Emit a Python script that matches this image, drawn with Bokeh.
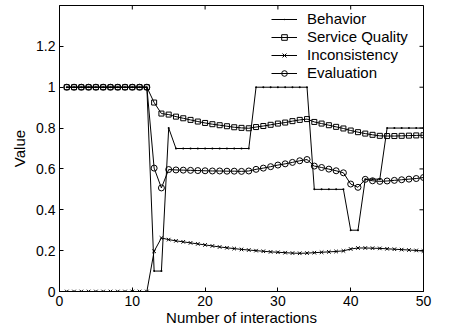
import math

from bokeh.plotting import figure
from bokeh.models import Range1d, FixedTicker, Legend, LegendItem
from bokeh.embed import file_html
from bokeh.resources import INLINE

interactions = list(range(1, 51))

behavior = [1.0, 1.0, 1.0, 1.0, 1.0, 1.0, 1.0, 1.0, 1.0, 1.0, 1.0, 1.0,
            0.1, 0.1, 0.8, 0.7, 0.7, 0.7, 0.7, 0.7, 0.7, 0.7, 0.7, 0.7,
            0.7, 0.7, 1.0, 1.0, 1.0, 1.0, 1.0, 1.0, 1.0, 1.0, 0.5, 0.5,
            0.5, 0.5, 0.5, 0.3, 0.3, 0.55, 0.55, 0.55, 0.8, 0.8, 0.8, 0.8,
            0.8, 0.8]

service_quality = [1.0, 1.0, 1.0, 1.0, 1.0, 1.0, 1.0, 1.0, 1.0, 1.0, 1.0, 1.0,
                   0.925, 0.871, 0.866, 0.856, 0.848, 0.840, 0.832, 0.825,
                   0.819, 0.814, 0.809, 0.804, 0.801, 0.799, 0.805, 0.810,
                   0.816, 0.822, 0.827, 0.834, 0.840, 0.844, 0.830, 0.822,
                   0.814, 0.806, 0.798, 0.788, 0.780, 0.773, 0.767, 0.762,
                   0.761, 0.761, 0.762, 0.763, 0.764, 0.765]

inconsistency = [0.0, 0.0, 0.0, 0.0, 0.0, 0.0, 0.0, 0.0, 0.0, 0.0, 0.0, 0.0,
                 0.197, 0.262, 0.254, 0.248, 0.243, 0.238, 0.233, 0.228,
                 0.223, 0.218, 0.214, 0.210, 0.206, 0.203, 0.200, 0.197,
                 0.194, 0.192, 0.190, 0.188, 0.187, 0.188, 0.190, 0.192,
                 0.194, 0.196, 0.199, 0.208, 0.213, 0.213, 0.212, 0.211,
                 0.209, 0.207, 0.205, 0.203, 0.201, 0.198]

evaluation = [1.0, 1.0, 1.0, 1.0, 1.0, 1.0, 1.0, 1.0, 1.0, 1.0, 1.0, 1.0,
              0.604, 0.507, 0.597, 0.595, 0.594, 0.593, 0.592, 0.591,
              0.590, 0.590, 0.589, 0.589, 0.588, 0.590, 0.598, 0.604,
              0.611, 0.619, 0.625, 0.632, 0.640, 0.646, 0.614, 0.607,
              0.599, 0.591, 0.581, 0.526, 0.510, 0.549, 0.542, 0.539,
              0.541, 0.544, 0.547, 0.550, 0.553, 0.558]

x_ticks = [0, 10, 20, 30, 40, 50]
y_ticks = [0, 0.2, 0.4, 0.6, 0.8, 1.0, 1.2]
y_tick_labels = {0: "0", 0.2: "0.2", 0.4: "0.4", 0.6: "0.6", 0.8: "0.8", 1.0: "1", 1.2: "1.2"}
x_min, x_max = 0, 50
y_min, y_max = 0, 1.4

FONT = "Liberation Sans"

p = figure(width=453, height=331, output_backend="svg", toolbar_location=None,
           x_range=Range1d(x_min, x_max), y_range=Range1d(y_min, y_max),
           min_border_left=59, min_border_right=30, min_border_top=5, min_border_bottom=40,
           x_axis_label="Number of interactions", y_axis_label="Value")
p.background_fill_color = "white"
p.border_fill_color = "white"
p.outline_line_color = "black"
p.outline_line_width = 1
p.grid.visible = False

for ax, ticks in ((p.xaxis[0], x_ticks), (p.yaxis[0], y_ticks)):
    ax.ticker = FixedTicker(ticks=ticks)
    ax.major_tick_in = 4
    ax.major_tick_out = 0
    ax.minor_tick_line_color = None
    ax.axis_line_color = "black"
    ax.major_tick_line_color = "black"
    ax.major_label_text_font = FONT
    ax.major_label_text_font_size = "14px"
    ax.major_label_text_color = "black"
    ax.axis_label_text_font = FONT
    ax.axis_label_text_font_style = "normal"
    ax.axis_label_text_font_size = "15px"
    ax.axis_label_text_color = "black"
    ax.major_label_standoff = 4

p.yaxis[0].major_label_overrides = y_tick_labels
p.xaxis[0].axis_label_standoff = 0

# mirrored inward ticks on the top and right edges of the box
# (dashes centred on the edge; the frame clips the outer half)
p.scatter(x=x_ticks, y=[y_max] * len(x_ticks), marker="dash", angle=math.pi / 2,
          size=8, line_color="black", line_width=1)
p.scatter(x=[x_max] * len(y_ticks), y=y_ticks, marker="dash",
          size=8, line_color="black", line_width=1)

items = []

l1 = p.line(interactions, behavior, line_color="black", line_width=1)
m1 = p.scatter(interactions, behavior, marker="dot", size=8, line_color="black", fill_color="black")
items.append(LegendItem(label="Behavior", renderers=[l1, m1]))

l2 = p.line(interactions, service_quality, line_color="black", line_width=1)
m2 = p.scatter(interactions, service_quality, marker="square", size=5, line_color="black", fill_color=None)
items.append(LegendItem(label="Service Quality", renderers=[l2, m2]))

l3 = p.line(interactions, inconsistency, line_color="black", line_width=1)
m3 = p.scatter(interactions, inconsistency, marker="x", size=5, line_color="black")
items.append(LegendItem(label="Inconsistency", renderers=[l3, m3]))

l4 = p.line(interactions, evaluation, line_color="black", line_width=1)
m4 = p.scatter(interactions, evaluation, marker="circle", size=6, line_color="black", fill_color=None)
items.append(LegendItem(label="Evaluation", renderers=[l4, m4]))

legend = Legend(items=items, location=(212, 210))
legend.background_fill_alpha = 0
legend.border_line_alpha = 0
legend.padding = 0
legend.margin = 0
legend.spacing = 1
legend.glyph_width = 26
legend.glyph_height = 14
legend.label_height = 14
legend.label_standoff = 10
legend.label_text_font = FONT
legend.label_text_font_size = "15px"
legend.label_text_color = "black"
p.add_layout(legend, "center")

open("out.html", "w").write(file_html(p, INLINE))
